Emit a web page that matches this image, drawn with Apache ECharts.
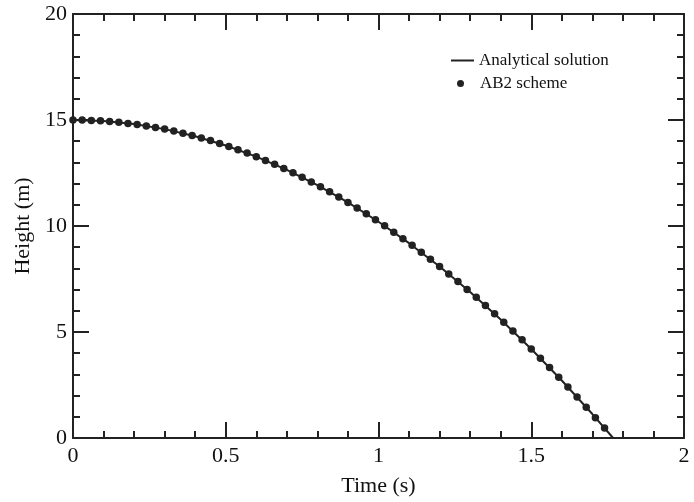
<!DOCTYPE html>
<html>
<head>
<meta charset="utf-8">
<script src="https://cdn.jsdelivr.net/npm/echarts@6/dist/echarts.min.js"></script>
<style>
  html, body { margin: 0; padding: 0; background: #fff; }
  #chart { width: 694px; height: 502px; }
</style>
</head>
<body>
<div id="chart"></div>
<script>
// AB2 scheme points (time step read as ~0.03 s)
const schemeTimes = [0, 0.03, 0.06, 0.09, 0.12, 0.15, 0.18, 0.21, 0.24, 0.27,
  0.30, 0.33, 0.36, 0.39, 0.42, 0.45, 0.48, 0.51, 0.54, 0.57,
  0.60, 0.63, 0.66, 0.69, 0.72, 0.75, 0.78, 0.81, 0.84, 0.87,
  0.90, 0.93, 0.96, 0.99, 1.02, 1.05, 1.08, 1.11, 1.14, 1.17,
  1.20, 1.23, 1.26, 1.29, 1.32, 1.35, 1.38, 1.41, 1.44, 1.47,
  1.50, 1.53, 1.56, 1.59, 1.62, 1.65, 1.68, 1.71, 1.74]
const schemeHeights = [15.00, 15.00, 14.98, 14.96, 14.93, 14.89, 14.84, 14.79, 14.72, 14.65,
  14.57, 14.48, 14.38, 14.27, 14.15, 14.03, 13.89, 13.75, 13.60, 13.44,
  13.27, 13.09, 12.91, 12.71, 12.51, 12.30, 12.08, 11.85, 11.61, 11.37,
  11.11, 10.85, 10.58, 10.30, 10.01, 9.71, 9.40, 9.09, 8.76, 8.43,
  8.09, 7.74, 7.38, 7.01, 6.64, 6.25, 5.86, 5.46, 5.05, 4.63,
  4.20, 3.76, 3.32, 2.87, 2.40, 1.93, 1.45, 0.96, 0.47]

// analytical curve, read at 0.1 s plus where it meets the ground
const analyticTimes = [0, 0.1, 0.2, 0.3, 0.4, 0.5, 0.6, 0.7, 0.8, 0.9,
  1.0, 1.1, 1.2, 1.3, 1.4, 1.5, 1.6, 1.7, 1.768]
const analyticHeights = [15, 14.95, 14.81, 14.57, 14.23, 13.8, 13.27, 12.65, 11.93, 11.11,
  10.2, 9.19, 8.09, 6.89, 5.59, 4.2, 2.71, 1.13, 0]

const serif = 'Liberation Serif'
const ink = '#222'

const chart = echarts.init(document.getElementById('chart'))

const axisCommon = {
  type: 'value',
  axisLine: { show: true, onZero: false, lineStyle: { color: ink, width: 2 } },
  axisTick: { show: true, inside: true, length: 16, lineStyle: { color: ink, width: 2 } },
  minorTick: { show: true, splitNumber: 5, length: 7, lineStyle: { color: ink, width: 2 } },
  splitLine: { show: false },
  minorSplitLine: { show: false }
}

chart.setOption({
  animation: false,
  backgroundColor: '#fff',
  grid: { left: 73, right: 10, top: 14, bottom: 63 },
  legend: [
    {
      data: [{ name: 'Analytical solution', icon: 'rect' }],
      left: 446, top: 47,
      itemWidth: 23, itemHeight: 2,
      textStyle: { fontFamily: serif, fontSize: 17, color: '#111' }
    },
    {
      data: [{ name: 'AB2 scheme', icon: 'circle' }],
      left: 452, top: 70,
      itemWidth: 7, itemHeight: 7,
      textStyle: { fontFamily: serif, fontSize: 17, color: '#111', padding: [0, 0, 0, 11] }
    }
  ],
  xAxis: [
    Object.assign({}, axisCommon, {
      position: 'bottom', min: 0, max: 2, interval: 0.5,
      name: 'Time (s)', nameLocation: 'middle', nameGap: 37,
      nameTextStyle: { fontFamily: serif, fontSize: 22, color: '#111' },
      axisLabel: { fontFamily: serif, fontSize: 22, color: '#111', margin: 7 }
    }),
    Object.assign({}, axisCommon, {
      position: 'top', min: 0, max: 2, interval: 0.5,
      axisLabel: { show: false }
    })
  ],
  yAxis: [
    Object.assign({}, axisCommon, {
      position: 'left', min: 0, max: 20, interval: 5,
      name: 'Height (m)', nameLocation: 'middle', nameGap: 38,
      nameTextStyle: { fontFamily: serif, fontSize: 22, color: '#111' },
      axisLabel: { fontFamily: serif, fontSize: 22, color: '#111', margin: 6 }
    }),
    Object.assign({}, axisCommon, {
      position: 'right', min: 0, max: 20, interval: 5,
      axisLabel: { show: false }
    })
  ],
  series: [
    {
      name: 'Analytical solution',
      type: 'line',
      data: analyticTimes.map((t, i) => [t, analyticHeights[i]]),
      showSymbol: false,
      lineStyle: { color: ink, width: 2 },
      itemStyle: { color: ink }
    },
    {
      name: 'AB2 scheme',
      type: 'scatter',
      data: schemeTimes.map((t, i) => [t, schemeHeights[i]]),
      symbolSize: 7.5,
      itemStyle: { color: ink, opacity: 1 }
    }
  ]
})
</script>
</body>
</html>
